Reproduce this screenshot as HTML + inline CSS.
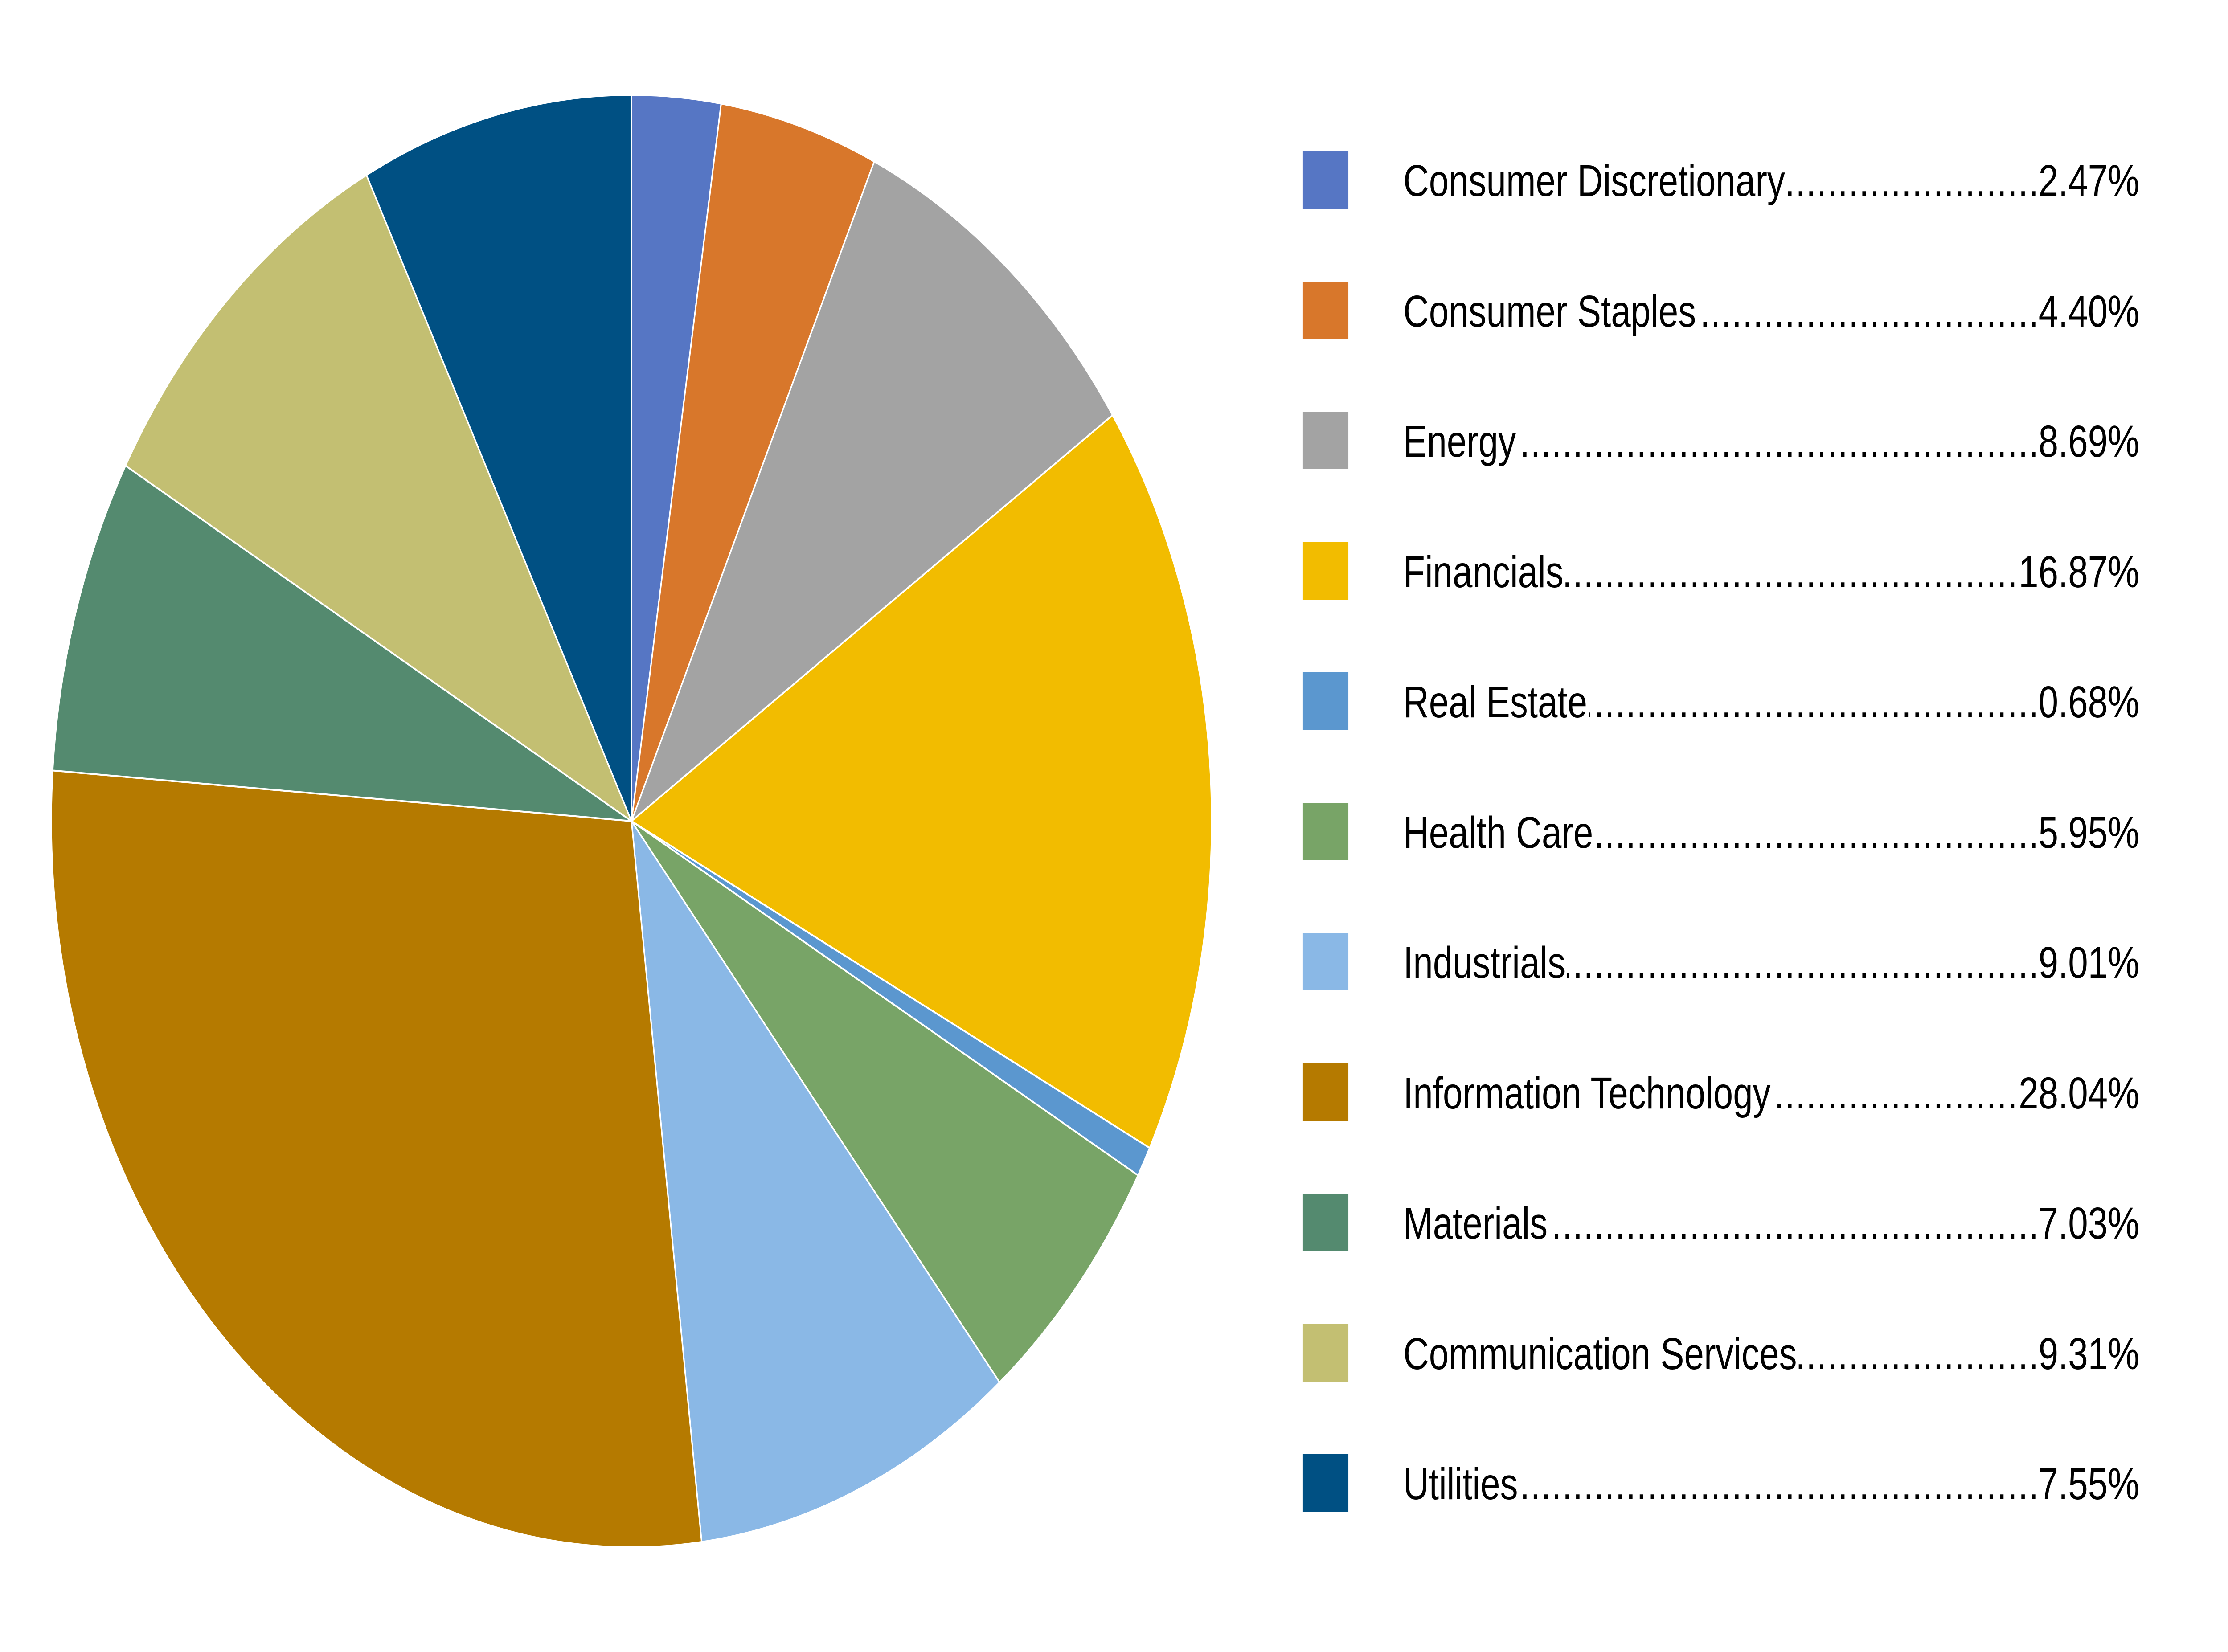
<!DOCTYPE html>
<html><head><meta charset="utf-8"><style>
html,body{margin:0;padding:0;background:#fff;overflow:hidden;}
#wrap{position:absolute;left:0;top:0;width:6259px;height:3708px;transform-origin:0 0;font-family:"Liberation Sans",sans-serif;background:#fff;}
.row{position:absolute;left:3660px;width:2350px;height:130px;overflow:hidden;}
.sq{position:absolute;left:0;top:0;width:128px;height:129px;}
.t{position:absolute;left:282px;width:2068px;top:10px;height:120px;overflow:hidden;font-size:100px;line-height:115px;color:#000;white-space:nowrap;}
.d{position:absolute;left:0;top:0;width:2068px;overflow:hidden;letter-spacing:2px;}
.l{position:absolute;left:0;top:0;background:#fff;padding-right:4px;}
.p{position:absolute;right:0;top:0;background:#fff;padding-left:6px;}
</style></head><body>
<div id="wrap">
<svg id="pie" width="6259" height="3708" style="position:absolute;left:0;top:0"></svg>
<div id="leg"></div>
</div>
<script>
var data=[["Consumer Discretionary",2.47,"#5676C4"],["Consumer Staples",4.40,"#D8772B"],["Energy",8.69,"#A3A3A3"],["Financials",16.87,"#F2BC00"],["Real Estate",0.68,"#5B97CF"],["Health Care",5.95,"#78A467"],["Industrials",9.01,"#8AB8E6"],["Information Technology",28.04,"#B57A00"],["Materials",7.03,"#548A6F"],["Communication Services",9.31,"#C3BF72"],["Utilities",7.55,"#005083"]];
var cx=1774,cy=1843,r=1630,a=0,s="";
data.forEach(function(d){
 var a2=a+d[1]/100*2*Math.PI;
 var x1=cx+r*Math.sin(a),y1=cy-r*Math.cos(a),x2=cx+r*Math.sin(a2),y2=cy-r*Math.cos(a2);
 s+='<path d="M'+cx+' '+cy+' L'+x1+' '+y1+' A'+r+' '+r+' 0 '+((a2-a)>Math.PI?1:0)+' 1 '+x2+' '+y2+' Z" fill="'+d[2]+'" stroke="#fff" stroke-width="4" stroke-linejoin="round"/>';
 a=a2;
});
document.getElementById('pie').innerHTML=s;
var h="",dots=new Array(90).join(".");
data.forEach(function(d,i){
 h+='<div class="row" style="top:'+(339+i*292.5)+'px"><div class="sq" style="background:'+d[2]+'"></div><div class="t"><div class="d">'+dots+'</div><span class="l">'+d[0]+'</span><span class="p">'+d[1].toFixed(2)+'%</span></div></div>';
});
document.getElementById('leg').innerHTML=h;
function fit(){
 var w=window.innerWidth||document.documentElement.clientWidth||6259;
 var hh=window.innerHeight||document.documentElement.clientHeight||3708;
 var sx=w/6259, sy=hh/3708;
 var el=document.getElementById('wrap');
 el.style.transform=(Math.abs(sx-1)>0.001||Math.abs(sy-1)>0.001)?'scale('+sx+','+sy+')':'none';
 document.body.style.width=w+'px';
 document.body.style.height=hh+'px';
}
fit();
window.addEventListener('resize',fit);
</script>
</body></html>
